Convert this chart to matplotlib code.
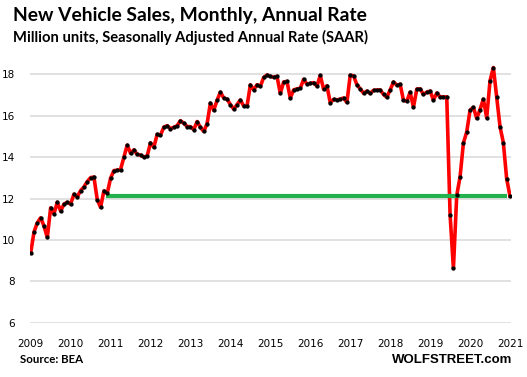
import numpy as np
import matplotlib
matplotlib.use("Agg")
import matplotlib.pyplot as plt

# monthly SAAR, million units (Jan 2009 onward)
sales = [9.36, 10.38, 10.83, 11.07, 10.67, 10.12, 11.55, 11.26, 11.82, 11.39, 11.73, 11.82,
         11.73, 12.21, 12.08, 12.38, 12.56, 12.82, 13.01, 13.04, 11.95, 11.57, 12.37, 12.25,
         12.98, 13.35, 13.37, 13.40, 14.00, 14.58, 14.19, 14.35, 14.13, 14.10, 14.00, 14.06,
         14.69, 14.48, 15.10, 15.06, 15.45, 15.52, 15.38, 15.44, 15.52, 15.76, 15.64, 15.48,
         15.47, 15.33, 15.72, 15.44, 15.24, 15.62, 16.61, 16.26, 16.75, 17.14, 16.86, 16.80,
         16.54, 16.32, 16.54, 16.76, 16.47, 16.47, 17.49, 17.26, 17.50, 17.42, 17.85, 17.97,
         17.90, 17.86, 17.90, 17.08, 17.63, 17.66, 16.85, 17.25, 17.30, 17.33, 17.76, 17.53,
         17.56, 17.60, 17.43, 17.95, 17.28, 17.45, 16.63, 16.79, 16.77, 16.80, 16.86, 16.64,
         17.96, 17.93, 17.50, 17.30, 17.09, 17.19, 17.08, 17.23, 17.24, 17.25, 17.03, 16.89,
         17.25, 17.63, 17.48, 17.52, 16.75, 16.70, 17.14, 16.41, 17.29, 17.30, 17.03, 17.14,
         17.19, 16.76, 17.10, 16.91, 16.91, 16.91, 11.22, 8.62, 12.15, 13.05, 14.68, 15.22,
         16.27, 16.41, 15.87, 16.30, 16.80, 15.90, 17.69, 18.33, 16.90, 15.47, 14.70, 12.95,
         12.12]
years = [str(y) for y in range(2009, 2022)]

# green reference line: level and month span
ref_level = 12.12
ref_start = 22.6
ref_end = 143.2

x = np.arange(len(sales))

fig = plt.figure(figsize=(5.27, 3.77), dpi=100)
ax = fig.add_axes([30/527, 1 - 322.7/377, 481/527, (322.7 - 64)/377])

ax.plot(x, sales, color='#ff0000', lw=2.6, zorder=2, solid_joinstyle='round')
ax.hlines(ref_level, ref_start, ref_end, color='#22b14c', lw=3.0, zorder=3)
ax.plot(x, sales, ls='none', marker='o', ms=2.1, color='black', zorder=4)

ax.set_xlim(-0.2, 144.3)
ax.set_ylim(6, 18.5)
ax.set_yticks([6, 8, 10, 12, 14, 16, 18])
ax.set_xticks(np.arange(len(years)) * 12)
ax.set_xticklabels(years)
ax.tick_params(axis='both', length=0, labelsize=7.5, colors='black')
ax.tick_params(axis='y', pad=11)
ax.tick_params(axis='x', pad=12)
ax.grid(axis='y', color='#d9d9d9', lw=1.1)
ax.set_axisbelow(True)
for s in ax.spines.values():
    s.set_visible(False)

fig.text(13/527, 1 - 21/377, 'New Vehicle Sales, Monthly, Annual Rate',
         family='Lato', weight='bold', fontsize=13.9, color='black', va='baseline')
fig.text(13/527, 1 - 42.3/377, 'Million units, Seasonally Adjusted Annual Rate (SAAR)',
         family='Lato', weight='bold', fontsize=10.6, color='black', va='baseline')
fig.text(20/527, 1 - 363.3/377, 'Source: BEA', family='Lato', weight='bold',
         fontsize=8.3, color='black', va='baseline')
fig.text(512/527, 1 - 363.3/377, 'WOLFSTREET.com', family='Liberation Sans',
         weight='bold', fontsize=9.5, color='black', va='baseline', ha='right')

fig.savefig('out.png', dpi=100)
